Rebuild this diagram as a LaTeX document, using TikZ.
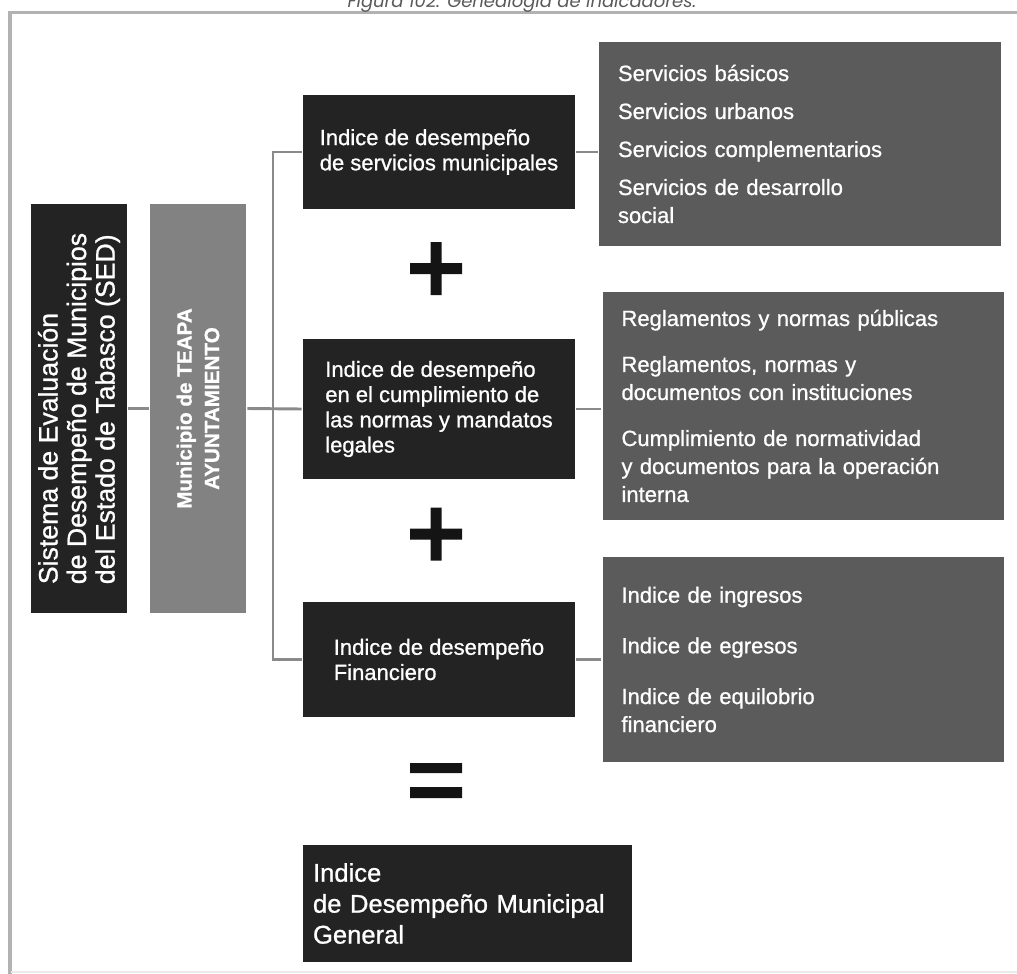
\documentclass[tikz,border=0pt]{standalone}
\usepackage{fontspec}
\setmainfont{Liberation Sans}[FakeBold=0.9]
\newfontfamily\capfont{Poppins}
\usetikzlibrary{positioning, calc}
\definecolor{cdark}{HTML}{232323}
\definecolor{cmid}{HTML}{5B5B5B}
\definecolor{cgrey}{HTML}{828282}
\definecolor{cline}{HTML}{8A8A8A}
\definecolor{cframe}{HTML}{B2B2B2}
\tikzset{
  every picture/.style={line width=2.2pt},
  darkbox/.style={fill=cdark, text=white, align=left, inner sep=0pt, minimum width=204pt,
    font=\fontsize{16.5}{18.9}\selectfont},
  itembox/.style={fill=cmid, text=white, align=left, inner xsep=14pt, inner ysep=0pt,
    text width=273pt, font=\fontsize{16.5}{21}\selectfont},
  sidebox/.style={rotate=90, minimum width=306.75pt, minimum height=72pt, inner sep=0pt},
  link/.style={draw=cline, line width=2.2pt},
  sign/.style={fill=black!92},
}

\begin{document}
\begin{tikzpicture}[x=0.75pt, y=-0.75pt]
  \useasboundingbox (0,0) rectangle (1017,974);
  % frame and caption
  \draw[cframe, line width=2.4pt] (10,974) -- (10,12.5) -- (1017,12.5);
  \draw[black!8, line width=1.5pt] (11,972) -- (1017,972);
  \node[anchor=base, font=\capfont\itshape\fontsize{13.5}{15}\selectfont, text=black!65] (caption) at (522,7.5) {Figura 102. Genealogía de indicadores.};

  % left column
  \node[sidebox, fill=cdark, text=white, align=left, font=\fontsize{20}{21.4}\selectfont] (sed) at (79,408.5)
    {Sistema de Evaluación\\de Desempeño de Municipios\\del Estado de Tabasco (SED)};
  \node[sidebox, fill=cgrey, text=white!92, align=center, font=\bfseries\fontsize{15.5}{20.6}\selectfont] (mun) at (198,408.5)
    {Municipio de TEAPA\\AYUNTAMIENTO};

  % indices
  \node[darkbox, minimum height=85.5pt] (box1) at (439,152) {Indice de desempeño\\de servicios municipales};
  \node[darkbox, minimum height=105pt] (box2) at (439,409) {Indice de desempeño\\en el cumplimiento de\\las normas y mandatos\\legales};
  \node[darkbox, minimum height=86.25pt] (box3) at (439,659.5) {Indice de desempeño\\Financiero};
  \node[darkbox, minimum width=246.75pt, minimum height=87.75pt, inner xsep=7.5pt, text width=231.75pt,
    font=\fontsize{19.2}{23.2}\selectfont] (total) at (467.5,903.5) {Indice\\de Desempeño Municipal\\General};

  % components
  \node[itembox, minimum height=153pt] (servA) at (800,144)
    {Servicios básicos\\[7.5pt]Servicios urbanos\\[7.5pt]Servicios complementarios\\[7.5pt]Servicios de desarrollo\\social};
  \node[itembox, minimum height=171pt] (servB) at (803.5,406)
    {Reglamentos y normas públicas\\[13.5pt]Reglamentos, normas y\\documentos con instituciones\\[13.5pt]Cumplimiento de normatividad\\y documentos para la operación\\interna};
  \node[itembox, minimum height=153.75pt] (servC) at (803.5,659.5)
    {Indice de ingresos\\[17pt]Indice de egresos\\[17pt]Indice de equilobrio\\financiero};

  % connectors (sed/mun are rotated: south = right side)
  \coordinate (bus) at (273,408.5);
  \draw[link] (sed.south) -- (mun.north);
  \draw[link] (mun.south) -- (box2.west);
  \draw[link] (box1.west) -- (box1.west -| bus) -- (box3.west -| bus) -- (box3.west);
  \foreach \a/\b in {box1/servA, box2/servB, box3/servC}
    \draw[link] (\a.east) -- (\a.east -| \b.west);

  % plus and equal signs
  \foreach \y in {268.5,534}
    \fill[sign] (410,\y-5.5) rectangle (462,\y+5.5) (430.5,\y-26.5) rectangle (441.5,\y+26.5);
  \fill[sign] (410,763) rectangle (462,773) (410,787) rectangle (462,798);
\end{tikzpicture}
\end{document}
